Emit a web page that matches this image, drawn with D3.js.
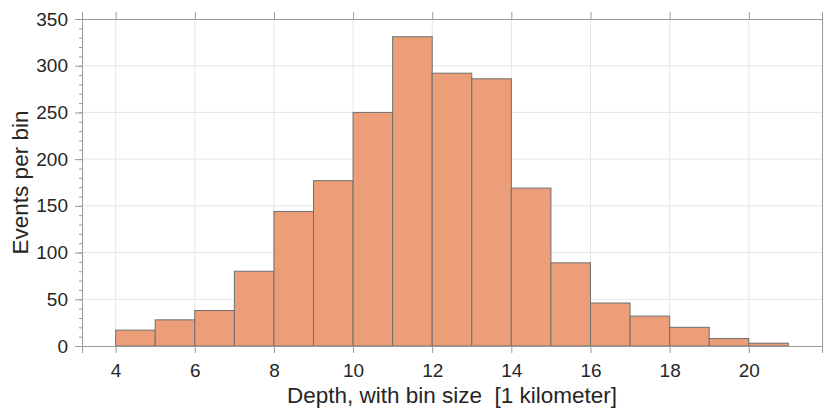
<!DOCTYPE html>
<html>
<head>
<meta charset="utf-8">
<script src="https://cdn.jsdelivr.net/npm/d3@7"></script>
<style>
  body { margin: 0; background: #fff; }
  text { font-family: "Liberation Sans", Arial, sans-serif; fill: #262626; }
</style>
</head>
<body>
<div id="chart"></div>
<script>
// histogram bins (left edge, km) and counts
const binStarts = [4, 5, 6, 7, 8, 9, 10, 11, 12, 13, 14, 15, 16, 17, 18, 19, 20];
const counts = [17, 28, 38, 80, 144, 177, 250, 331, 292, 286, 169, 89, 46, 32, 20, 8, 3];
const binSize = 1;
const xTicks = [4, 6, 8, 10, 12, 14, 16, 18, 20];
const yTicks = [0, 50, 100, 150, 200, 250, 300, 350];

const W = 823, H = 408;
const margin = { top: 19, right: 1, bottom: 62, left: 82 };
const width = W - margin.left - margin.right;
const height = H - margin.top - margin.bottom;

const svg = d3.select("#chart")
  .append("svg")
    .attr("width", W)
    .attr("height", H)
  .append("g")
    .attr("transform", `translate(${margin.left},${margin.top})`);

const x = d3.scaleLinear().domain([3.15, 21.85]).range([0, width]);
const y = d3.scaleLinear().domain([0, 350]).range([height, 0]);

// grid
svg.append("g")
  .selectAll("line")
  .data(xTicks)
  .join("line")
    .attr("x1", d => x(d)).attr("x2", d => x(d))
    .attr("y1", 0).attr("y2", height)
    .attr("stroke", "#e6e6e6");
svg.append("g")
  .selectAll("line")
  .data(yTicks.slice(1, -1))
  .join("line")
    .attr("x1", 0).attr("x2", width)
    .attr("y1", d => y(d)).attr("y2", d => y(d))
    .attr("stroke", "#e6e6e6");

// bars
svg.append("g")
  .selectAll("rect")
  .data(binStarts.map((s, i) => ({ s, c: counts[i] })))
  .join("rect")
    .attr("x", d => x(d.s))
    .attr("y", d => y(d.c))
    .attr("width", d => x(d.s + binSize) - x(d.s))
    .attr("height", d => y(0) - y(d.c))
    .attr("fill", "#eb9e78")
    .attr("stroke", "#707070")
    .attr("stroke-width", 1);

const axisColor = "#9a9a9a";
const minorY = d3.range(0, 351, 10);

function styleAxis(g) {
  g.select(".domain").attr("stroke", axisColor);
  g.selectAll(".tick line").attr("stroke", axisColor);
  g.selectAll(".tick text").style("font-size", "19px").attr("fill", "#262626");
}

// left minor ticks
svg.append("g")
  .call(d3.axisLeft(y).tickValues(minorY).tickSize(3).tickFormat(""))
  .call(styleAxis);
// left major
svg.append("g")
  .call(d3.axisLeft(y).tickValues(yTicks).tickSize(7).tickPadding(7))
  .call(styleAxis);

// right minor ticks
svg.append("g")
  .attr("transform", `translate(${width},0)`)
  .call(d3.axisRight(y).tickValues(minorY).tickSize(3).tickFormat(""))
  .call(styleAxis);

// bottom
svg.append("g")
  .attr("transform", `translate(0,${height})`)
  .call(d3.axisBottom(x).tickValues(xTicks).tickSize(7).tickPadding(11).tickFormat(d3.format("d")))
  .call(styleAxis);

// top
svg.append("g")
  .call(d3.axisTop(x).tickValues(xTicks).tickSize(7).tickFormat(""))
  .call(styleAxis);

// titles
svg.append("text")
  .attr("x", width / 2)
  .attr("y", height + 57)
  .attr("text-anchor", "middle")
  .style("font-size", "22.5px")
  .text("Depth, with bin size\u00a0\u00a0[1 kilometer]");

svg.append("text")
  .attr("transform", `translate(${-54},${height / 2}) rotate(-90)`)
  .attr("text-anchor", "middle")
  .style("font-size", "22.5px")
  .text("Events per bin");
</script>
</body>
</html>
